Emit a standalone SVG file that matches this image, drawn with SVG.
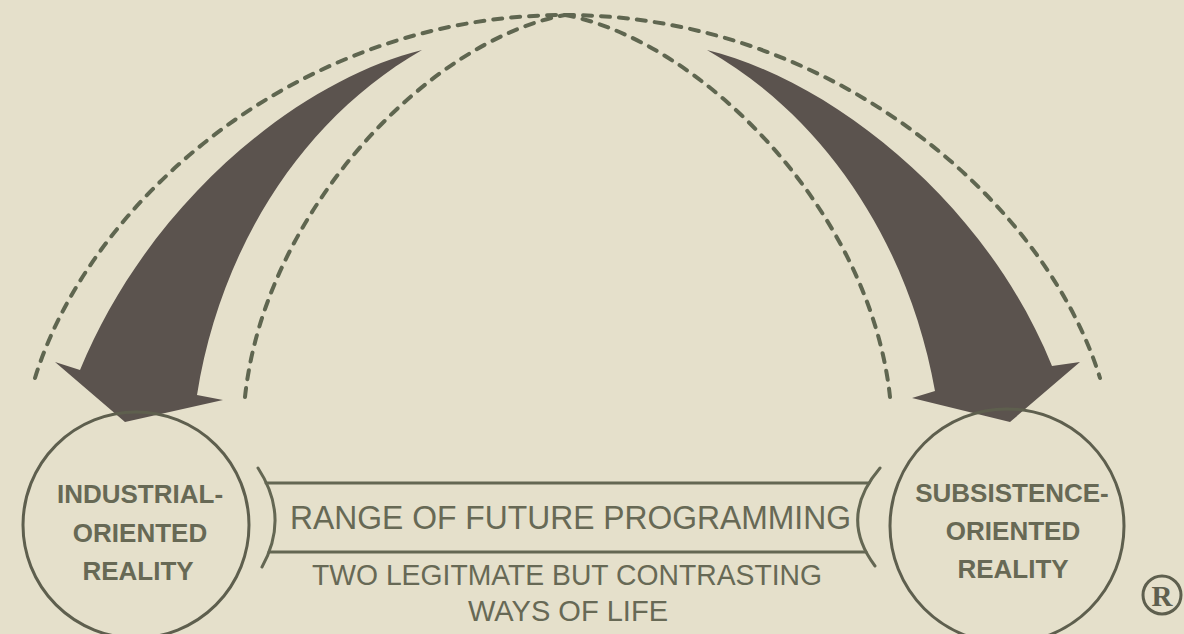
<svg xmlns="http://www.w3.org/2000/svg" width="1184" height="634" viewBox="0 0 1184 634">
<style>
.bg{fill:#e5e0cb}
.circ{fill:none;stroke:#5e5f4e;stroke-width:3}
.lbl{font-family:"Liberation Sans",Arial,sans-serif;font-weight:bold;font-size:26px;fill:#676955;text-anchor:middle}
.band{fill:none;stroke:#646753;stroke-width:3;stroke-linecap:round}
.bandtxt{font-family:"Liberation Sans",Arial,sans-serif;font-size:33px;fill:#676955}
.sub{font-family:"Liberation Sans",Arial,sans-serif;font-size:29px;fill:#676955}
.arrow{fill:#5b534e}
.dash{fill:none;stroke:#5f6650;stroke-width:4;stroke-dasharray:9 9;stroke-linecap:round}
</style>
<rect class="bg" x="0" y="0" width="1184" height="634"/>
<g id="connectors">
<path class="dash" d="M35,378 C90,200 300,15 565,15"/>
<path class="dash" d="M565,15 C830,15 1045,200 1100,378"/>
<path class="dash" d="M245,397 C265,210 430,40 565,15"/>
<path class="dash" d="M565,15 C700,40 870,210 890,397"/>
<path class="arrow" d="M422,50 C300,80 150,200 80,370 L55,362 L125,422 L223,400 L197,395 C220,250 300,120 422,50 Z"/>
<path class="arrow" d="M707,50 C830,80 985,200 1052,366 L1080,362 L1010,422 L912,398 L935,391 C910,250 830,120 707,50 Z"/>
</g>
<g id="node-industrial">
<circle class="circ" cx="136" cy="525" r="113"/>
<text class="lbl" x="140" y="503">INDUSTRIAL-</text>
<text class="lbl" x="140" y="542">ORIENTED</text>
<text class="lbl" x="138" y="580">REALITY</text>
</g>
<g id="node-subsistence">
<circle class="circ" cx="1007" cy="526" r="117"/>
<text class="lbl" x="1012" y="502">SUBSISTENCE-</text>
<text class="lbl" x="1013" y="540">ORIENTED</text>
<text class="lbl" x="1013" y="578">REALITY</text>
</g>
<g id="node-range">
<path class="band" d="M258,468 Q290,517 262,567"/>
<path class="band" d="M880,468 Q838,517 875,566"/>
<line class="band" x1="266" y1="483" x2="869" y2="483"/>
<line class="band" x1="269" y1="552" x2="866" y2="552"/>
<text class="bandtxt" x="290" y="529" textLength="561" lengthAdjust="spacingAndGlyphs">RANGE OF FUTURE PROGRAMMING</text>
<text class="sub" x="312" y="585" textLength="510" lengthAdjust="spacingAndGlyphs">TWO LEGITMATE BUT CONTRASTING</text>
<text class="sub" x="468" y="621" textLength="200" lengthAdjust="spacingAndGlyphs">WAYS OF LIFE</text>
</g>
<g id="registered">
<circle cx="1162" cy="595" r="19" fill="none" stroke="#5e5f4e" stroke-width="3"/>
<text x="1162" y="606" font-family="Liberation Serif,'Times New Roman',serif" font-weight="bold" font-size="29" fill="#5e5f4e" text-anchor="middle">R</text>
</g>
</svg>
